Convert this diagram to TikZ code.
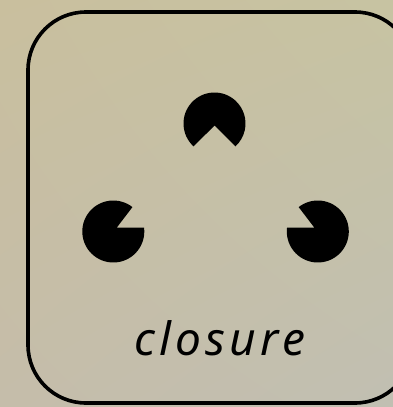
\documentclass[tikz,border=0pt]{standalone}
\usepackage{fontspec}
\setmainfont{Noto Sans}
\usetikzlibrary{shadings}
\definecolor{bgUL}{RGB}{201,191,158}
\definecolor{bgUR}{RGB}{199,195,162}
\definecolor{bgLL}{RGB}{197,189,170}
\definecolor{bgLR}{RGB}{193,191,178}
\begin{document}
\begin{tikzpicture}[x=1pt,y=-1pt,
  framebox/.style={draw=black,line width=3.6pt,rounded corners=58pt},
  pacfill/.style={fill=black},
  label/.style={font=\itshape\fontsize{46}{50}\selectfont\addfontfeature{LetterSpace=9},text=black,inner sep=0pt,anchor=base}]
\useasboundingbox (0,0) rectangle (393,407);
\shade[upper left=bgUL,upper right=bgUR,lower left=bgLL,lower right=bgLR] (0,0) rectangle (393,407);
\draw[framebox] (28,12) rectangle (413,403);
% #1 apex, #2 centre, #3 start angle, #4 end angle
\newcommand{\pacman}[4]{%
  \fill[pacfill] (#1) -- ([shift={(#3:31)}]#2) arc[start angle=#3,end angle=#4,radius=31] -- cycle;}
\coordinate (topc) at (214.5,123.5);
\coordinate (lftc) at (113.3,231.5);
\coordinate (rgtc) at (317.8,231.5);
\pacman{214.5,125.5}{214.5,123.5}{132.4}{407.6}
\pacman{116.7,227.7}{113.3,231.5}{-7.04}{308.1}
\pacman{314.4,227.7}{317.8,231.5}{231.9}{547.04}
\node[label] (txt) at (220,355) {closure};
\end{tikzpicture}
\end{document}
